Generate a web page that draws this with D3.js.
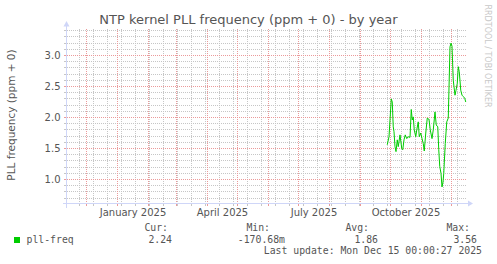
<!DOCTYPE html>
<html lang="en">
<head>
<meta charset="UTF-8">
<title>NTP kernel PLL frequency - by year</title>
<script src="https://cdn.jsdelivr.net/npm/d3@7"></script>
<style>
    body { margin: 0; background: #fff; }
    text { font-family: "DejaVu Sans", sans-serif; fill: #555; }
    text.mono { font-family: "DejaVu Sans Mono", monospace; }
</style>
</head>
<body>
<div id="chart"></div>
<script>
    // pll-freq samples (ppm)
    const times = [
        "2025-09-27 18:00", "2025-09-29 12:00", "2025-10-01 18:00", "2025-10-02 18:00", "2025-10-03 18:00",
        "2025-10-04 12:00", "2025-10-05 12:00", "2025-10-06 12:00", "2025-10-07 18:00", "2025-10-08 18:00",
        "2025-10-10 12:00", "2025-10-12 06:00", "2025-10-13 06:00", "2025-10-14 12:00", "2025-10-15 18:00",
        "2025-10-17 06:00", "2025-10-18 18:00", "2025-10-20 12:00", "2025-10-21 18:00", "2025-10-22 18:00",
        "2025-10-23 18:00", "2025-10-24 18:00", "2025-10-26 06:00", "2025-10-27 06:00", "2025-10-28 18:00",
        "2025-10-29 18:00", "2025-10-31 06:00", "2025-11-01 12:00", "2025-11-02 18:00", "2025-11-03 18:00",
        "2025-11-05 06:00", "2025-11-06 18:00", "2025-11-08 12:00", "2025-11-09 18:00", "2025-11-11 12:00",
        "2025-11-12 18:00", "2025-11-14 12:00", "2025-11-15 18:00", "2025-11-17 06:00", "2025-11-18 06:00",
        "2025-11-19 06:00", "2025-11-20 12:00", "2025-11-21 12:00", "2025-11-22 12:00", "2025-11-23 06:00",
        "2025-11-24 18:00", "2025-11-26 06:00", "2025-11-27 18:00", "2025-11-29 12:00", "2025-11-30 12:00",
        "2025-12-01 12:00", "2025-12-02 18:00", "2025-12-04 12:00", "2025-12-05 12:00", "2025-12-06 18:00",
        "2025-12-07 18:00", "2025-12-08 18:00", "2025-12-10 06:00", "2025-12-11 12:00", "2025-12-12 18:00",
        "2025-12-14 06:00", "2025-12-15 06:00"
    ];
    const values = [
        1.56, 1.69, 2.30, 2.25, 1.85, 1.77, 1.53, 1.45, 1.64, 1.53,
        1.72, 1.50, 1.48, 1.64, 1.72, 1.66, 1.69, 1.68, 2.13, 1.96,
        2.01, 1.80, 1.69, 1.80, 1.93, 1.69, 1.75, 1.66, 1.58, 1.46,
        1.75, 1.99, 1.97, 1.80, 1.66, 1.80, 2.09, 1.88, 1.85, 1.48,
        1.21, 1.10, 0.88, 0.96, 1.10, 1.58, 1.93, 1.99, 3.14, 3.20,
        3.15, 2.60, 2.36, 2.44, 2.55, 2.82, 2.74, 2.44, 2.36, 2.34,
        2.31, 2.25
    ];
    const yTicks = [1.0, 1.5, 2.0, 2.5, 3.0];
    const monthLabels = ["January 2025", "April 2025", "July 2025", "October 2025"];
    const legendHeads = ["Cur:", "Min:", "Avg:", "Max:"];
    const legendValues = ["2.24", "-170.68m", "1.86", "3.56"];
    const seriesName = "pll-freq";
    const lastUpdate = "Last update: Mon Dec 15 00:00:27 2025";

    const W = 497, H = 264;
    const plot = { left: 66.5, right: 466.5, top: 28.5, bottom: 203.5 };
    const gridMinor = "#c6c6c6", gridMajor = "#eb9a9a", axisColor = "#cfd6f8";

    const parse = d3.timeParse("%Y-%m-%d %H:%M");
    const data = times.map((t, i) => ({ t: parse(t), v: values[i] }));

    const svg = d3.select("#chart").append("svg")
        .attr("width", W)
        .attr("height", H);
    svg.append("rect").attr("width", W).attr("height", H).attr("fill", "#fff");

    // scales (400 days, one pixel per day)
    const start = new Date(2024, 10, 11), end = new Date(2025, 11, 16);
    const x = d3.scaleTime().domain([start, end]).range([plot.left, plot.right]);
    const y = d3.scaleLinear().domain([0.613, 3.436]).range([plot.bottom, plot.top]);
    const snap = v => Math.round(v - 0.5) + 0.5;

    // grid lines
    const grid = svg.append("g").attr("shape-rendering", "crispEdges");

    // minor horizontal every 0.1
    grid.selectAll(".hmin").data(y.ticks(28)).enter().append("line")
        .attr("x1", plot.left - 2).attr("x2", plot.right)
        .attr("y1", d => snap(y(d))).attr("y2", d => snap(y(d)))
        .attr("stroke", gridMinor).attr("stroke-dasharray", "1,1");

    // minor vertical every second sunday
    const minorDays = d3.timeSunday.range(start, end).filter((d, i) => i % 2 === 1);
    grid.selectAll(".vmin").data(minorDays).enter().append("line")
        .attr("x1", d => snap(x(d))).attr("x2", d => snap(x(d)))
        .attr("y1", plot.top).attr("y2", plot.bottom + 2)
        .attr("stroke", gridMinor).attr("stroke-dasharray", "1,1");

    // major horizontal
    grid.selectAll(".hmaj").data(yTicks).enter().append("line")
        .attr("x1", plot.left - 2).attr("x2", plot.right)
        .attr("y1", d => snap(y(d))).attr("y2", d => snap(y(d)))
        .attr("stroke", gridMajor).attr("stroke-dasharray", "1,1");

    // major vertical at each month
    const months = d3.timeMonth.range(start, end);
    grid.selectAll(".vmaj").data(months).enter().append("line")
        .attr("x1", d => snap(x(d))).attr("x2", d => snap(x(d)))
        .attr("y1", plot.top).attr("y2", plot.bottom + 2)
        .attr("stroke", gridMajor).attr("stroke-dasharray", "1,1");

    // small solid ticks outside the axes
    grid.selectAll(".xt").data(minorDays.concat(months)).enter().append("line")
        .attr("x1", d => snap(x(d))).attr("x2", d => snap(x(d)))
        .attr("y1", plot.bottom + 0.5).attr("y2", plot.bottom + 2.5)
        .attr("stroke", (d, i) => i < minorDays.length ? gridMinor : gridMajor);
    grid.selectAll(".yt").data(y.ticks(28)).enter().append("line")
        .attr("x1", plot.left - 2.5).attr("x2", plot.left - 0.5)
        .attr("y1", d => snap(y(d))).attr("y2", d => snap(y(d)))
        .attr("stroke", d => yTicks.some(t => Math.abs(t - d) < 1e-6) ? gridMajor : gridMinor);

    // axes with arrows
    svg.append("line")
        .attr("x1", plot.left - 4).attr("x2", plot.right + 2)
        .attr("y1", plot.bottom).attr("y2", plot.bottom)
        .attr("stroke", axisColor).attr("shape-rendering", "crispEdges");
    svg.append("line")
        .attr("x1", plot.left).attr("x2", plot.left)
        .attr("y1", plot.bottom + 4).attr("y2", plot.top - 3)
        .attr("stroke", axisColor).attr("shape-rendering", "crispEdges");
    svg.append("path")
        .attr("d", `M${plot.right + 1.5},${plot.bottom - 3} L${plot.right + 6.5},${plot.bottom} L${plot.right + 1.5},${plot.bottom + 3} Z`)
        .attr("fill", axisColor);
    svg.append("path")
        .attr("d", `M${plot.left - 3},${plot.top - 2} L${plot.left},${plot.top - 7.5} L${plot.left + 3},${plot.top - 2} Z`)
        .attr("fill", axisColor);

    // y tick labels
    svg.selectAll(".ylab").data(yTicks).enter().append("text")
        .attr("x", plot.left - 6)
        .attr("y", d => y(d) + 3.5)
        .attr("text-anchor", "end")
        .attr("font-size", "10px")
        .text(d => d3.format(".1f")(d));

    // x labels centred in their month
    const monthParse = d3.timeParse("%B %Y");
    svg.selectAll(".xlab").data(monthLabels).enter().append("text")
        .attr("x", d => {
            const m = monthParse(d);
            return (x(m) + x(d3.timeMonth.offset(m, 1))) / 2;
        })
        .attr("y", 216)
        .attr("text-anchor", "middle")
        .attr("font-size", "10px")
        .text(d => d);

    // series line
    const line = d3.line().x(d => x(d.t)).y(d => y(d.v));
    svg.append("path")
        .datum(data)
        .attr("d", line)
        .attr("fill", "none")
        .attr("stroke", "#00cc00")
        .attr("stroke-width", 1);

    // title and axis label
    svg.append("text")
        .attr("x", 248.5).attr("y", 24)
        .attr("text-anchor", "middle")
        .attr("font-size", "13px")
        .text("NTP kernel PLL frequency (ppm + 0) - by year");
    svg.append("text")
        .attr("transform", "translate(15,115) rotate(-90)")
        .attr("text-anchor", "middle")
        .attr("font-size", "10.5px")
        .text("PLL frequency (ppm + 0)");

    // watermark
    svg.append("text")
        .attr("transform", "translate(484.5,56) rotate(90)")
        .attr("text-anchor", "middle")
        .attr("font-size", "8px")
        .style("fill", "#c8c8c8")
        .text("RRDTOOL / TOBI OETIKER");

    // legend
    const headX = [168, 270, 369, 470];
    const valX = [172, 285, 378, 477];
    svg.selectAll(".lhead").data(legendHeads).enter().append("text")
        .attr("class", "mono")
        .attr("x", (d, i) => headX[i]).attr("y", 231)
        .attr("text-anchor", "end")
        .attr("font-size", "9.8px")
        .text(d => d);
    svg.selectAll(".lval").data(legendValues).enter().append("text")
        .attr("class", "mono")
        .attr("x", (d, i) => valX[i]).attr("y", 243)
        .attr("text-anchor", "end")
        .attr("font-size", "9.8px")
        .text(d => d);
    svg.append("rect")
        .attr("x", 14).attr("y", 237).attr("width", 6).attr("height", 6)
        .attr("fill", "#00cc00");
    svg.append("text")
        .attr("class", "mono")
        .attr("x", 26.5).attr("y", 243)
        .attr("font-size", "9.8px")
        .text(seriesName);
    svg.append("text")
        .attr("class", "mono")
        .attr("x", 482).attr("y", 254)
        .attr("text-anchor", "end")
        .attr("font-size", "9.8px")
        .text(lastUpdate);
</script>
</body>
</html>
